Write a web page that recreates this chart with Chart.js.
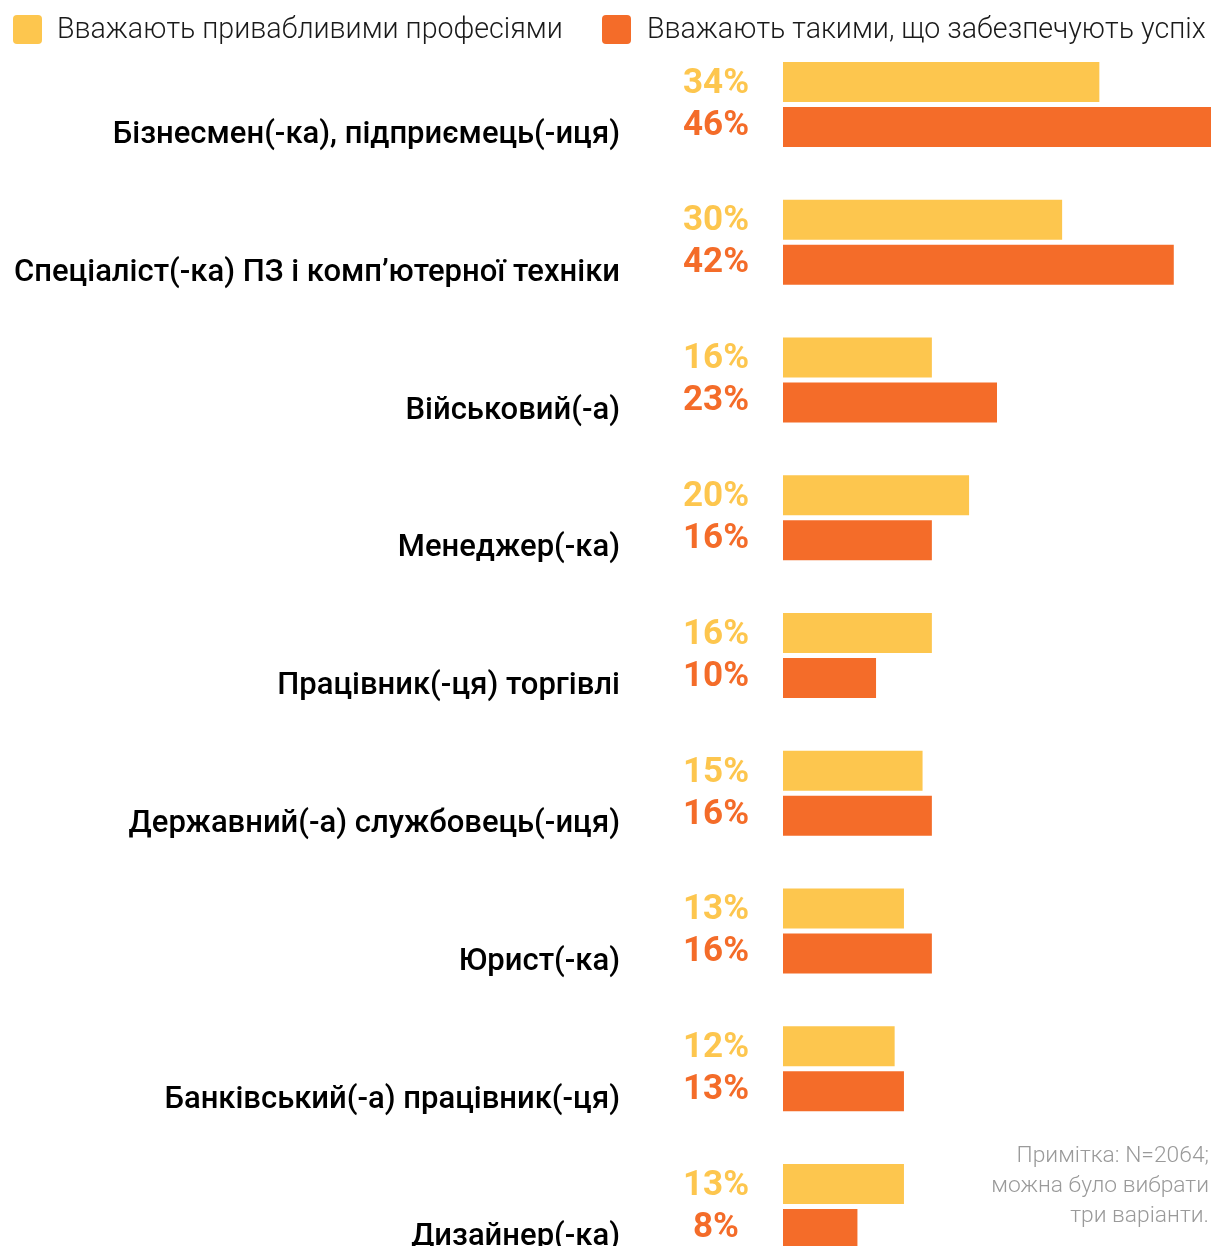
<!DOCTYPE html>
<html><head><meta charset="utf-8">
<script src="https://cdn.jsdelivr.net/npm/chart.js@4.4.1/dist/chart.umd.min.js"></script>
<style>
html,body{margin:0;padding:0;overflow:hidden;background:#fff}
#wrap{position:relative;width:1211px;height:1280px}
</style>
</head><body>
<div id="wrap"><canvas id="c" width="1211" height="1280"></canvas></div>
<script>
const categories = [
  "Бізнесмен(-ка), підприємець(-иця)",
  "Спеціаліст(-ка) ПЗ і комп’ютерної техніки",
  "Військовий(-а)",
  "Менеджер(-ка)",
  "Працівник(-ця) торгівлі",
  "Державний(-а) службовець(-иця)",
  "Юрист(-ка)",
  "Банківський(-а) працівник(-ця)",
  "Дизайнер(-ка)"
];
const attractive = [34, 30, 16, 20, 16, 15, 13, 12, 13];
const success = [46, 42, 23, 16, 10, 16, 16, 13, 8];
const seriesNames = ["Вважають привабливими професіями", "Вважають такими, що забезпечують успіх"];
const noteLines = ["Примітка: N=2064;", "можна було вибрати", "три варіанти."];

const YELLOW = "#FDC64E";
const ORANGE = "#F46C29";
const FONT = "Roboto, 'DejaVu Sans', sans-serif";

const valueLabels = {
  id: "valueLabels",
  afterDatasetsDraw(chart) {
    const ctx = chart.ctx;
    ctx.save();
    ctx.font = "bold 35px " + FONT;
    ctx.textAlign = "center";
    ctx.textBaseline = "middle";
    chart.data.datasets.forEach((ds, di) => {
      const meta = chart.getDatasetMeta(di);
      meta.data.forEach((bar, i) => {
        ctx.fillStyle = ds.backgroundColor;
        ctx.fillText(ds.data[i] + "%", 716, bar.y + (di === 0 ? 2 : -1));
      });
    });
    ctx.restore();
  }
};

const customLegend = {
  id: "customLegend",
  afterDraw(chart) {
    const ctx = chart.ctx;
    ctx.save();
    const items = [
      { box: 13, text: 57, color: YELLOW, label: seriesNames[0] },
      { box: 602, text: 647, color: ORANGE, label: seriesNames[1] }
    ];
    ctx.font = "300 28.6px " + FONT;
    ctx.textBaseline = "middle";
    ctx.textAlign = "left";
    items.forEach(it => {
      ctx.fillStyle = it.color;
      ctx.beginPath();
      ctx.roundRect(it.box, 15, 29, 29, 4);
      ctx.fill();
      ctx.fillStyle = "#1a1a1a";
      ctx.fillText(it.label, it.text, 31);
    });
    ctx.font = "300 22.8px " + FONT;
    ctx.fillStyle = "#9a9a9a";
    ctx.textAlign = "right";
    noteLines.forEach((l, i) => ctx.fillText(l, 1209, 1156 + i * 30));
    ctx.restore();
  }
};

new Chart(document.getElementById("c"), {
  type: "bar",
  data: {
    labels: categories,
    datasets: [
      { label: seriesNames[0], data: attractive, backgroundColor: YELLOW },
      { label: seriesNames[1], data: success, backgroundColor: ORANGE }
    ]
  },
  options: {
    indexAxis: "y",
    responsive: false,
    devicePixelRatio: 1,
    animation: false,
    layout: { padding: { top: 35.6, bottom: 4.6, left: 0, right: 0 } },
    datasets: { bar: { categoryPercentage: 90 / 137.75, barPercentage: 40 / 45 } },
    plugins: { legend: { display: false }, tooltip: { enabled: false } },
    scales: {
      x: { display: false, min: 0, max: 46 },
      y: {
        grid: { display: false, drawTicks: false, tickLength: 0 },
        border: { display: false },
        afterFit(scale) {
          scale.width = 783;
          scale.paddingTop = 0;
          scale.paddingBottom = 0;
        },
        ticks: {
          padding: 163,
          labelOffset: 31,
          color: "#000",
          font: { family: FONT, size: 31, weight: "500" }
        }
      }
    }
  },
  plugins: [valueLabels, customLegend]
});
</script>
</body></html>
